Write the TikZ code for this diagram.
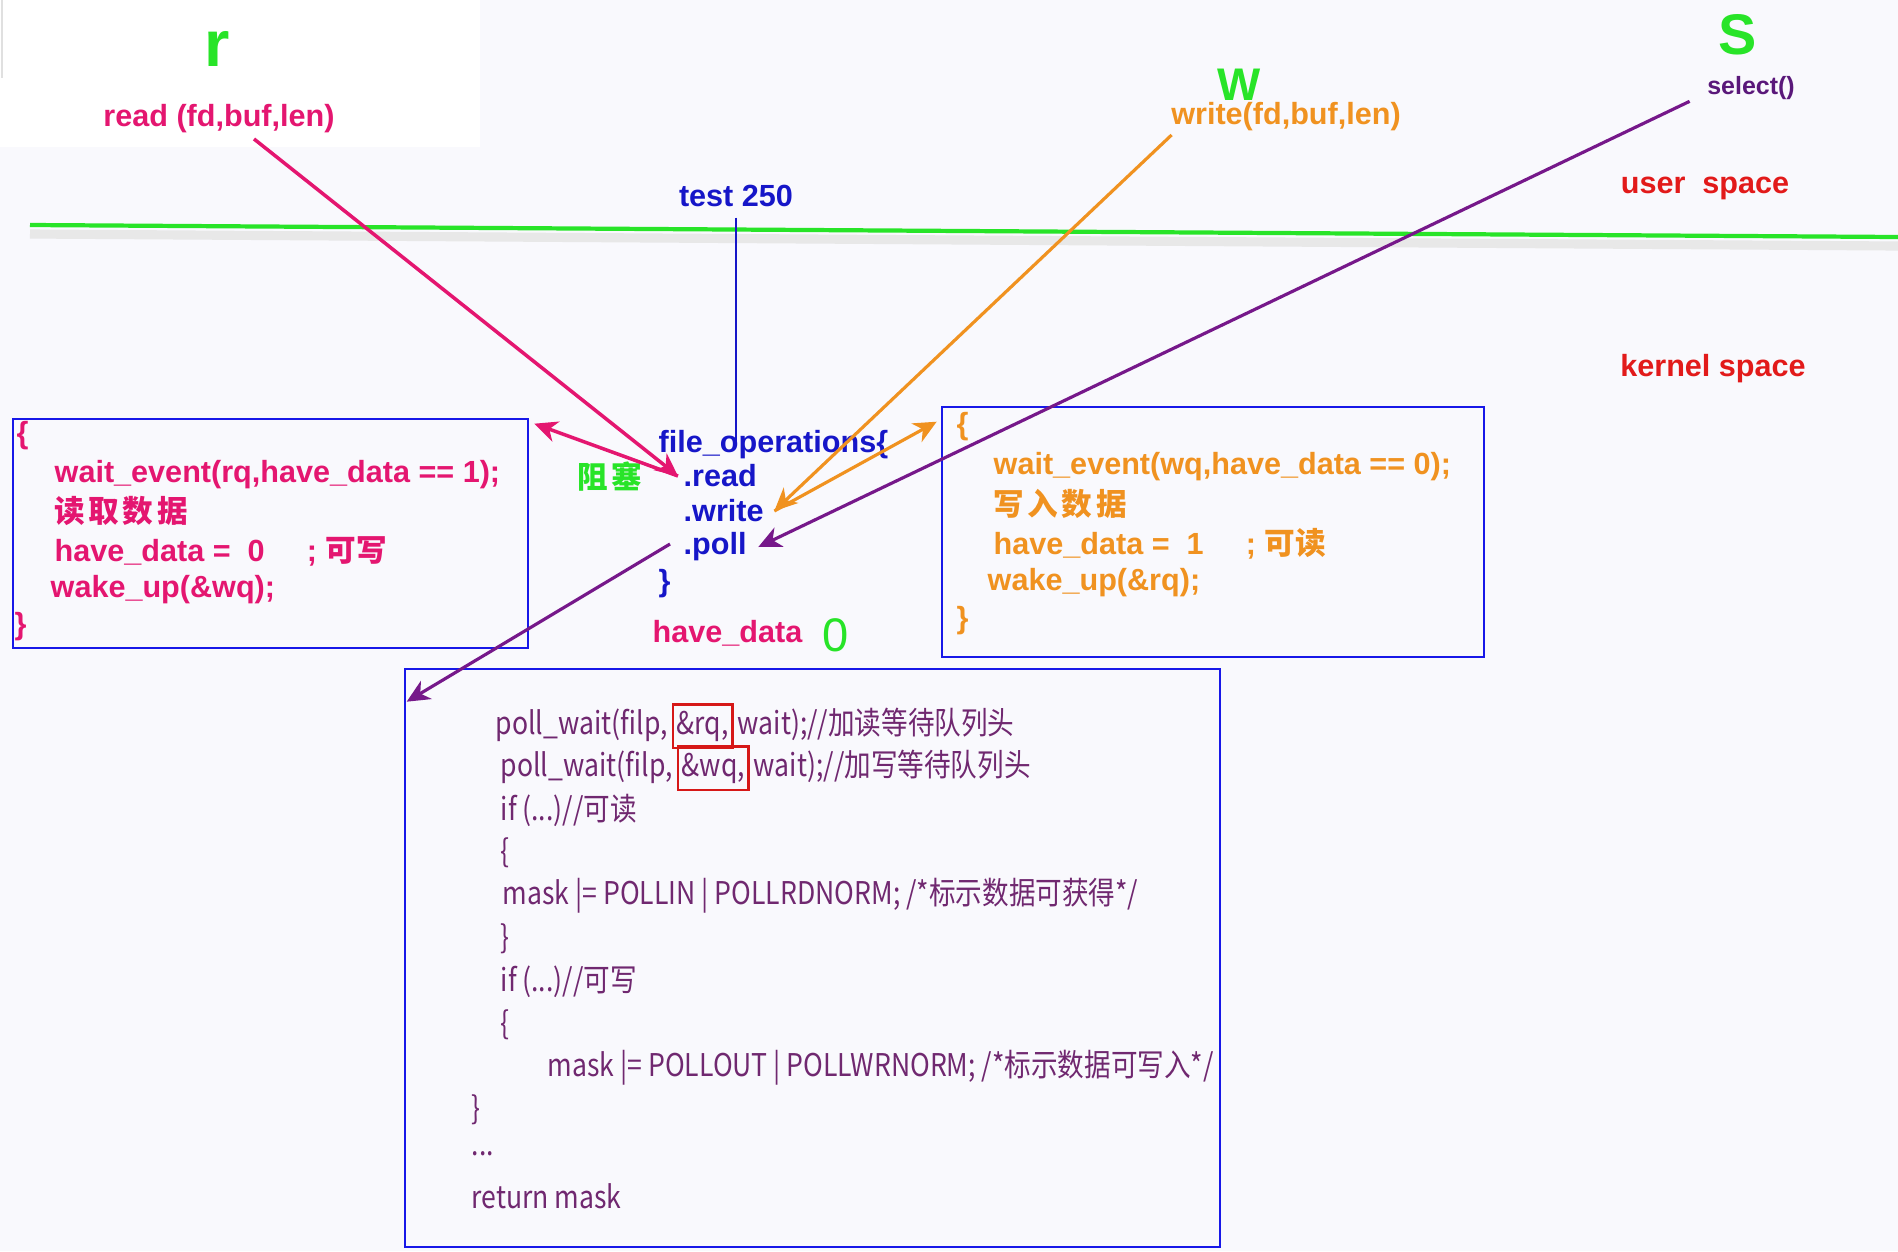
\documentclass[tikz,border=0pt]{standalone}
\usepackage{fontspec}
\setmainfont{Liberation Sans}
\newfontfamily\zh{Noto Sans CJK SC}
\newfontfamily\codefont[FakeStretch=0.85]{Noto Sans CJK SC}
\usepackage{tikz}
\usetikzlibrary{arrows.meta,positioning,fit}

\definecolor{bgcol}{RGB}{249,249,253}
\definecolor{magent}{RGB}{228,22,112}
\definecolor{orng}{RGB}{240,146,32}
\definecolor{purp}{RGB}{118,24,138}
\definecolor{selcol}{RGB}{90,24,122}
\definecolor{blu}{RGB}{22,22,200}
\definecolor{boxblu}{RGB}{24,24,232}
\definecolor{grn}{RGB}{40,228,40}
\definecolor{redtxt}{RGB}{226,26,26}
\definecolor{codecol}{RGB}{112,40,112}
\definecolor{markred}{RGB}{214,24,24}

\begin{document}
\begin{tikzpicture}[x=0.01cm, y=-0.01cm,
  lbl/.style={inner sep=0pt, font=\bfseries\fontsize{8.7}{10}\selectfont},
  boxline/.style={lbl, anchor=west},
  bigletter/.style={inner sep=0pt, text=grn, font=\bfseries\fontsize{#1}{#1}\selectfont},
  codebox/.style={draw=boxblu, line width=0.75pt, inner sep=0pt},
  codeline/.style={inner sep=0pt, anchor=west, text=codecol, font=\codefont\fontsize{8.9}{10}\selectfont},
  markbox/.style={codeline, draw=markred, line width=0.7pt, inner xsep=1pt, inner ysep=1.8pt},
  headtip/.style={-{Stealth[length=6.5pt,width=6pt,inset=2pt]}},
  rdarrow/.style={headtip, line width=1pt, magent},
  wrarrow/.style={headtip, line width=0.9pt, orng},
  plarrow/.style={headtip, line width=0.9pt, purp}
]

% ---- Background ----
\useasboundingbox (0,0) rectangle (1898,1251);
\fill[bgcol] (0,0) rectangle (1898,1251);
\fill[white] (0,0) rectangle (480,147);
\draw[black!12] (2,0) -- (2,78);

% ---- user / kernel boundary ----
\draw[line width=2.6pt, black!9] (30,234) -- (1898,246);
\draw[line width=1.2pt, grn] (30,225) -- (1898,237);

% ---- User space calls ----
\node[bigletter=18.5] (rlet) at (217,49) {r};
\node[lbl, text=magent] (readcall) at (219,119) {read (fd,buf,len)};
\node[bigletter=13] (wlet) at (1239,85) {W};
\node[lbl, text=orng] (writecall) at (1286,117) {write(fd,buf,len)};
\node[bigletter=16.3] (slet) at (1738,35) {S};
\node[inner sep=0pt, text=selcol, font=\bfseries\fontsize{7.1}{8}\selectfont] (selectcall) at (1751,88) {select()};
\node[lbl, text=redtxt] (uspace) at (1705,188) {user\ \ space};
\node[lbl, text=redtxt] (kspace) at (1713,369) {kernel space};
\node[lbl, text=blu] (t250) at (736,196) {test 250};

% ---- file_operations ----
\node[boxline, text=blu] (fops) at (658,445) {file\_operations\{};
\node[boxline, text=blu] (rd) at (683,476) {.read};
\node[boxline, text=blu] (wr) at (683,511) {.write};
\node[boxline, text=blu] (pl) at (683,547) {.poll};
\node[boxline, text=blu] (fclose) at (658,584) {\}};
\node[boxline, text=grn] (blk) at (577,477) {\zh 阻\kern1pt 塞};
\node[boxline, text=magent] (hdata) at (652,633) {have\_data};
\node[inner sep=0pt, text=grn, font=\fontsize{13.4}{14}\selectfont] (hd0) at (836,635) {0};

% ---- read side ----
\node[codebox, fit={(13,419) (528,648)}] (leftbox) {};
\node[boxline, text=magent] (l1) at (16,436) {\{};
\node[boxline, text=magent] (l2) at (54,475) {wait\_event(rq,have\_data == 1);};
\node[boxline, text=magent] (l3) at (54,511) {\zh 读\kern1pt 取\kern1pt 数\kern1pt 据};
\node[boxline, text=magent] (l4) at (54,551) {have\_data =\ \ 0\hspace{12pt};\ {\zh 可写}};
\node[boxline, text=magent] (l5) at (50,590) {wake\_up(\&wq);};
\node[boxline, text=magent] (l6) at (14,627) {\}};

% ---- write side ----
\node[codebox, fit={(942,407) (1484,657)}] (rightbox) {};
\node[boxline, text=orng] (r1) at (956,427) {\{};
\node[boxline, text=orng] (r2) at (993,467) {wait\_event(wq,have\_data == 0);};
\node[boxline, text=orng] (r3) at (993,504) {\zh 写\kern1pt 入\kern1pt 数\kern1pt 据};
\node[boxline, text=orng] (r4) at (993,544) {have\_data =\ \ 1\hspace{12pt};\ {\zh 可读}};
\node[boxline, text=orng] (r5) at (987,583) {wake\_up(\&rq);};
\node[boxline, text=orng] (r6) at (956,621) {\}};

% ---- poll body ----
\node[codebox, fit={(405,669) (1220,1247)}] (pollbox) {};
\node[codeline] (p1) at (495,725) {poll\_wait(filp,};
\node[markbox, base right=1pt of p1] (rqmark) {\&rq,};
\node[codeline, base right=1pt of rqmark] (p1b) {wait);//加读等待队列头};
\node[codeline] (p2) at (500,767) {poll\_wait(filp,};
\node[markbox, base right=1pt of p2] (wqmark) {\&wq,};
\node[codeline, base right=1pt of wqmark] (p2b) {wait);//加写等待队列头};
\node[codeline] (p3) at (500,810) {if (...)//可读};
\node[codeline] (p4) at (500,853) {\{};
\node[codeline] (p5) at (502,896) {mask |= POLLIN | POLLRDNORM; /*标示数据可获得*/};
\node[codeline] (p6) at (500,939) {\}};
\node[codeline] (p7) at (500,982) {if (...)//可写};
\node[codeline] (p8) at (500,1025) {\{};
\node[codeline] (p9) at (547,1068) {mask |= POLLOUT | POLLWRNORM; /*标示数据可写入*/};
\node[codeline] (p10) at (471,1110) {\}};
\node[codeline] (p11) at (471,1154) {...};
\node[codeline] (p12) at (471,1196) {return mask};

% ---- Connectors ----
\draw[blu, line width=0.6pt] ([shift={(0,10)}]t250.south) -- (t250.south |- fops.center);
% read
\draw[rdarrow] ([shift={(35,5)}]readcall.south) -- ([shift={(-5,0)}]rd.west);
\draw[rdarrow] ([shift={(-5,0)}]rd.west) -- ([shift={(5,6)}]leftbox.north east);
% write
\draw[wrarrow] ([shift={(1,3)}]writecall.south west) -- ([shift={(10,0)}]wr.east);
\draw[wrarrow] ([shift={(10,0)}]wr.east) -- ([shift={(-4,16)}]rightbox.north west);
% select / poll
\draw[plarrow] ([shift={(-17,1)}]selectcall.south west) -- ([shift={(11,0)}]pl.east);
\draw[plarrow] ([shift={(-13,-3)}]pl.west) -- ([shift={(3,34)}]pollbox.north west);

\end{tikzpicture}
\end{document}
